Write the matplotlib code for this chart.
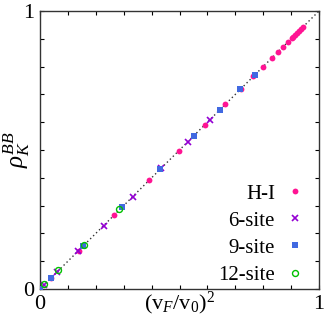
import numpy as np
import matplotlib
matplotlib.use('Agg')
import matplotlib.pyplot as plt

plt.rcParams['font.family'] = ['Liberation Serif', 'DejaVu Serif']
plt.rcParams['mathtext.fontset'] = 'custom'
plt.rcParams['mathtext.rm'] = 'Liberation Serif'
plt.rcParams['mathtext.it'] = 'Liberation Serif:italic'

# x = (v_F/v_0)^2, y = rho_K^BB (points lie on the diagonal)
hi_x = [0.04, 0.138, 0.265, 0.392, 0.498, 0.591, 0.664, 0.72, 0.765, 0.80, 0.83,
        0.853, 0.872, 0.89, 0.902, 0.908, 0.914, 0.921, 0.928, 0.935, 0.943]
hi_y = [0.04, 0.138, 0.265, 0.392, 0.498, 0.591, 0.664, 0.72, 0.765, 0.80, 0.83,
        0.853, 0.872, 0.89, 0.902, 0.908, 0.914, 0.921, 0.928, 0.935, 0.943]
s6_x = [0.015, 0.06, 0.135, 0.228, 0.332, 0.435, 0.529, 0.609]
s6_y = [0.015, 0.06, 0.135, 0.228, 0.332, 0.435, 0.529, 0.609]
s9_x = [0.0, 0.04, 0.155, 0.294, 0.431, 0.551, 0.645, 0.718, 0.77]
s9_y = [0.0, 0.04, 0.155, 0.294, 0.431, 0.551, 0.645, 0.718, 0.77]
s12_x = [0.016, 0.066, 0.157, 0.284]
s12_y = [0.018, 0.068, 0.158, 0.286]

fig = plt.figure(figsize=(3.28, 3.35), dpi=100)
ax = fig.add_axes([40/328, 46/335, 279/328, 278/335])

ax.plot([0, 1], [0, 1], ls=(0, (1, 2)), color='#333333', lw=1, zorder=1)

ax.plot(hi_x, hi_y, 'o', ls='none', color='#ff1493', ms=4.2, mew=0, label='H-I', zorder=3)
ax.plot(s6_x, s6_y, 'x', ls='none', color='#9400d3', ms=4.2, mew=1.2, label='6-site', zorder=3)
ax.plot(s9_x, s9_y, 's', ls='none', color='#4169e1', ms=4.2, mew=0, label='9-site', zorder=3)
ax.plot(s12_x, s12_y, 'o', ls='none', mfc='none', mec='#00c000', ms=4.3, mew=1, label='12-site', zorder=3)

ax.set_xlim(0, 1)
ax.set_ylim(0, 1)
ticks = np.linspace(0, 1, 11)
lbls = ['0'] + [''] * 9 + ['1']
ax.set_xticks(ticks, lbls)
ax.set_yticks(ticks, lbls)
ax.tick_params(direction='in', length=3, width=0.8, top=True, right=True,
               labelsize=16, pad=4)
for s in ax.spines.values():
    s.set_linewidth(1)
    s.set_color('#333333')

ax.set_xlabel(r'$(\mathrm{v}_F/\mathrm{v}_0)^2$', fontsize=16, labelpad=-17)
ax.set_ylabel(r'$\rho_K^{BB}$', fontsize=18, labelpad=-6)

ax.legend(loc='lower right', bbox_to_anchor=(0.98, -0.015), markerfirst=False,
          frameon=False, numpoints=1, handlelength=1.0, handletextpad=0.45,
          labelspacing=0.36, fontsize=15, borderaxespad=0.0)

fig.savefig('out.png', dpi=100)
